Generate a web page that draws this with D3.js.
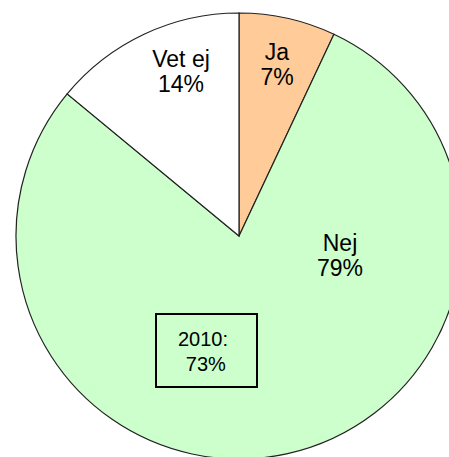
<!DOCTYPE html>
<html>
<head>
<meta charset="utf-8">
<script src="https://cdn.jsdelivr.net/npm/d3@7"></script>
<style>
  body { margin: 0; background: #fff; }
  svg { display: block; }
</style>
</head>
<body>
<div id="chart"></div>
<script>
// data
var categories = ["Ja", "Nej", "Vet ej"];
var values = [7, 79, 14];
var colors = ["#FFCC99", "#CCFFCC", "#FFFFFF"];
var noteLines = ["2010:", " 73%"];

var W = 449, H = 457,
    cx = 239, cy = 236, radius = 223;

// label offsets from the centre (first baseline)
var labelPos = {
  "Ja": [38, -176],
  "Nej": [101, 15],
  "Vet ej": [-58, -169]
};

var data = categories.map(function(c, i){ return {key: c, value: values[i], color: colors[i]}; });

var svg = d3.select("#chart")
  .append("svg")
  .attr("width", W)
  .attr("height", H);

var g = svg.append("g")
  .attr("transform", "translate(" + cx + "," + cy + ")");

var pie = d3.pie().sort(null).value(function(d){ return d.value; });
var arc = d3.arc().innerRadius(0).outerRadius(radius);

g.selectAll("path")
  .data(pie(data))
  .enter()
  .append("path")
  .attr("d", arc)
  .attr("fill", function(d){ return d.data.color; })
  .attr("stroke", "#222")
  .attr("stroke-width", 1.2);

var lbl = g.selectAll("text.lbl")
  .data(data)
  .enter()
  .append("text")
  .attr("class", "lbl")
  .attr("text-anchor", "middle")
  .style("font-family", "'Liberation Sans', Arial, sans-serif")
  .style("font-size", "23px")
  .attr("fill", "#000");

lbl.append("tspan")
  .attr("x", function(d){ return labelPos[d.key][0]; })
  .attr("y", function(d){ return labelPos[d.key][1]; })
  .text(function(d){ return d.key; });

lbl.append("tspan")
  .attr("x", function(d){ return labelPos[d.key][0]; })
  .attr("y", function(d){ return labelPos[d.key][1] + 25; })
  .text(function(d){ return d.value + "%"; });

// 2010 note box
var note = g.append("g").attr("transform", "translate(-83,78)");
note.append("rect")
  .attr("width", 101)
  .attr("height", 73)
  .attr("fill", "none")
  .attr("stroke", "#000")
  .attr("stroke-width", 2);

note.selectAll("text")
  .data(noteLines)
  .enter()
  .append("text")
  .attr("x", 47)
  .attr("y", function(d, i){ return 32 + i * 25; })
  .attr("text-anchor", "middle")
  .style("font-family", "'Liberation Sans', Arial, sans-serif")
  .style("font-size", "20px")
  .style("white-space", "pre")
  .attr("xml:space", "preserve")
  .text(function(d){ return d; });
</script>
</body>
</html>
